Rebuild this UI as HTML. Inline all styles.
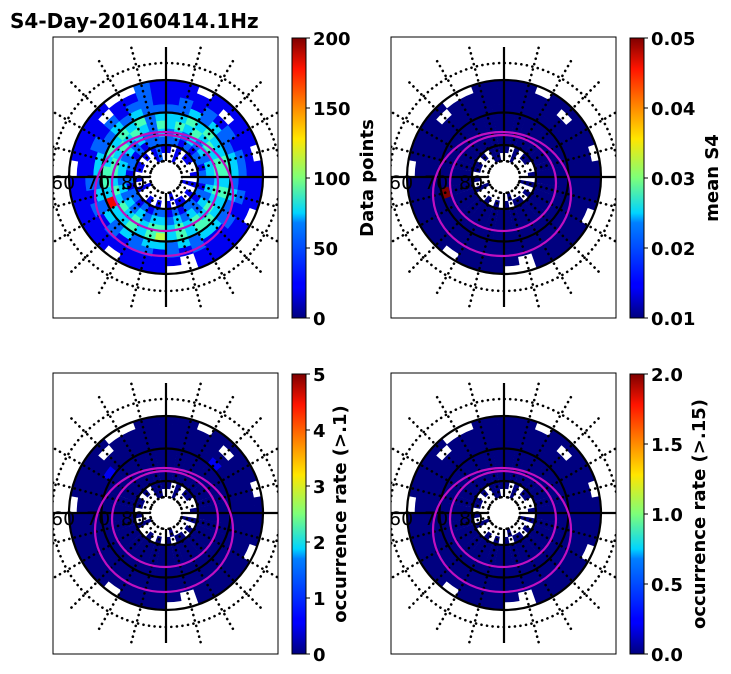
<!DOCTYPE html>
<html><head><meta charset="utf-8"><style>
html,body{margin:0;padding:0;background:#fff;width:731px;height:674px;overflow:hidden}
text{font-family:"DejaVu Sans","Liberation Sans",sans-serif}
</style></head><body>
<svg id="fig" width="731" height="674" xmlns="http://www.w3.org/2000/svg">
<defs>
<linearGradient id="jet" x1="0" y1="1" x2="0" y2="0">
<stop offset="0" stop-color="#00007f"/><stop offset="0.11" stop-color="#0000ff"/><stop offset="0.125" stop-color="#0000ff"/>
<stop offset="0.34" stop-color="#0080ff"/><stop offset="0.375" stop-color="#00d4ff"/><stop offset="0.5" stop-color="#7dff7a"/>
<stop offset="0.64" stop-color="#ffe600"/><stop offset="0.75" stop-color="#ff8c00"/><stop offset="0.89" stop-color="#ff1400"/><stop offset="1" stop-color="#7f0000"/>
</linearGradient>
</defs>
<text x="10" y="28" font-size="20" font-weight="bold">S4-Day-20160414.1Hz</text>
</svg>
<script>
// ring data (innermost ring first), 36 MLT sectors, digit level 0-9, '.' = no data
const ringsCount = [
"..1.......1.....1.......1........1..",
"1.1.11..1.1.1.11.1.1.1..1.1.11.1.1.1",
"2212122122121221212212122121221212.2",
"2323232332323232323323232323323232.3",
"3434343443434343434434343434434343.4",
"3343433443433443435434338344343434.3",
"2232322332322332323323232323322323.2",
"1212121221212112121221212121121212.1",
"1111.11111111111.11111111111111.1111",
"11.1111.111.1111..111.11111.1111..11"].map(s=>s.slice(0,34)+'2'+s.slice(35));
const panelTitles = ["Data points","mean S4","occurrence rate (>.1)","occurrence rate (>.15)"];
const tickLabels = [["0","50","100","150","200"],["0.01","0.02","0.03","0.04","0.05"],["0","1","2","3","4","5"],["0.0","0.5","1.0","1.5","2.0"]];
const hotCellsS4 = [[5,25,9]];
const hotCellsOcc1 = [[6,4,1],[6,30,1]];
const hotCellsOcc15 = [];
const latLabels = ["60","70","80"];
const labelOffsets = [81,88,54,75];

const NS="http://www.w3.org/2000/svg";
const svg=document.getElementById('fig');
function jet(t){t=Math.max(0,Math.min(1,t));
 const r=Math.max(0,Math.min(1,1.5-Math.abs(4*t-3))),g=Math.max(0,Math.min(1,1.5-Math.abs(4*t-2))),b=Math.max(0,Math.min(1,1.5-Math.abs(4*t-1)));
 return `rgb(${Math.round(r*255)},${Math.round(g*255)},${Math.round(b*255)})`;}
function mk(tag,attrs,parent){const e=document.createElementNS(NS,tag);for(const k in attrs)e.setAttribute(k,attrs[k]);(parent||svg).appendChild(e);return e;}
const rIn=16,rOut=97;
function sector(cx,cy,r0,r1,a0,a1){
 const p=(r,a)=>[cx+r*Math.sin(a*Math.PI/180),cy-r*Math.cos(a*Math.PI/180)];
 const A=p(r1,a0),B=p(r1,a1),C=p(r0,a1),D=p(r0,a0);
 return `M${A[0]},${A[1]}A${r1},${r1} 0 0 1 ${B[0]},${B[1]}L${C[0]},${C[1]}A${r0},${r0} 0 0 0 ${D[0]},${D[1]}Z`;}
const panels=[{cx:166,cy:177,bx:53,by:37,cb:292},{cx:504,cy:177,bx:391,by:37,cb:630},{cx:166,cy:513,bx:53,by:373,cb:292},{cx:504,cy:513,bx:391,by:373,cb:630}];
panels.forEach((P,pi)=>{
 const g=mk('g',{});
 
 
 const cid='clip'+pi;
 const cp=mk('clipPath',{id:cid},g);mk('rect',{x:P.bx,y:P.by,width:225,height:281},cp);
 const inner=mk('g',{'clip-path':`url(#${cid})`},g);
 const nr=ringsCount.length, dr=(rOut-rIn)/nr;
 const hot={};
 const hl=pi==1?hotCellsS4:pi==2?hotCellsOcc1:pi==3?hotCellsOcc15:[];
 hl.forEach(h=>hot[h[0]+'_'+h[1]]=h[2]);
 ringsCount.forEach((row,ri)=>{
  for(let si=0;si<row.length;si++){const ch=row[si];if(ch==='.')continue;
   let v=pi==0?(+ch)/9:((hot[ri+'_'+si]||0)/9);
   const a0=si*10,a1=a0+10;
   const c=mk('path',{d:sector(P.cx,P.cy,rIn+ri*dr,rIn+(ri+1)*dr+0.4,a0,a1+0.3),fill:jet(v)},inner);
   
   
  }});
 for(let a=0;a<360;a+=15){if(a%90===0)continue;const s=Math.sin(a*Math.PI/180),c=Math.cos(a*Math.PI/180);
  mk('line',{x1:P.cx+16*s,y1:P.cy-16*c,x2:P.cx+135*s,y2:P.cy-135*c,stroke:'#000','stroke-width':2.6,'stroke-dasharray':'0.1 5.5','stroke-linecap':'round'},inner);}
 [16,114].forEach(r=>mk('circle',{cx:P.cx,cy:P.cy,r:r,fill:'none',stroke:'#000','stroke-width':2.6,'stroke-dasharray':'0.1 5.5','stroke-linecap':'round'},inner));
 [32,64.5,97].forEach(r=>mk('circle',{cx:P.cx,cy:P.cy,r:r,fill:'none',stroke:'#000','stroke-width':2.2},inner));
 mk('line',{x1:P.cx,y1:P.cy-130,x2:P.cx,y2:P.cy-16,stroke:'#000','stroke-width':2.2},inner);
 mk('line',{x1:P.cx,y1:P.cy+16,x2:P.cx,y2:P.cy+130,stroke:'#000','stroke-width':2.2},inner);
 mk('line',{x1:P.cx-130,y1:P.cy,x2:P.cx-16,y2:P.cy,stroke:'#000','stroke-width':2.2},inner);
 mk('line',{x1:P.cx+16,y1:P.cy,x2:P.cx+130,y2:P.cy,stroke:'#000','stroke-width':2.2},inner);
 const m1=mk('ellipse',{cx:P.cx-2,cy:P.cy+17,rx:69,ry:62,fill:'none',stroke:'#c010c0','stroke-width':2.2},inner);
 
 const m2=mk('ellipse',{cx:P.cx-1,cy:P.cy+6,rx:53,ry:48,fill:'none',stroke:'#c010c0','stroke-width':2.2},inner);
 
 latLabels.forEach((t,i)=>{const tx=mk('text',{x:P.bx-2+i*35,y:P.cy+12,'font-size':19},inner);tx.textContent=t;
  });
 mk('rect',{x:P.bx,y:P.by,width:225,height:281,fill:'none',stroke:'#000','stroke-width':1},g);
 const cb=mk('rect',{x:P.cb,y:P.by+1,width:14,height:280,fill:'url(#jet)',stroke:'#000','stroke-width':1},g);
 
 const tl=tickLabels[pi];
 tl.forEach((t,i)=>{const y=P.by+281-i*280/(tl.length-1);
  mk('line',{x1:P.cb+14,y1:y,x2:P.cb+18,y2:y,stroke:'#000','stroke-width':1},g);
  const tx=mk('text',{x:P.cb+21,y:y+7,'font-size':18,'font-weight':'bold'},g);tx.textContent=t;
  });
 const lx=P.cb+labelOffsets[pi], ly=P.by+141;
 const lab=mk('text',{x:lx,y:ly,'font-size':18,'font-weight':'bold','text-anchor':'middle',transform:`rotate(-90 ${lx} ${ly})`},g);
 lab.textContent=panelTitles[pi];
 
});
</script>
</body></html>
